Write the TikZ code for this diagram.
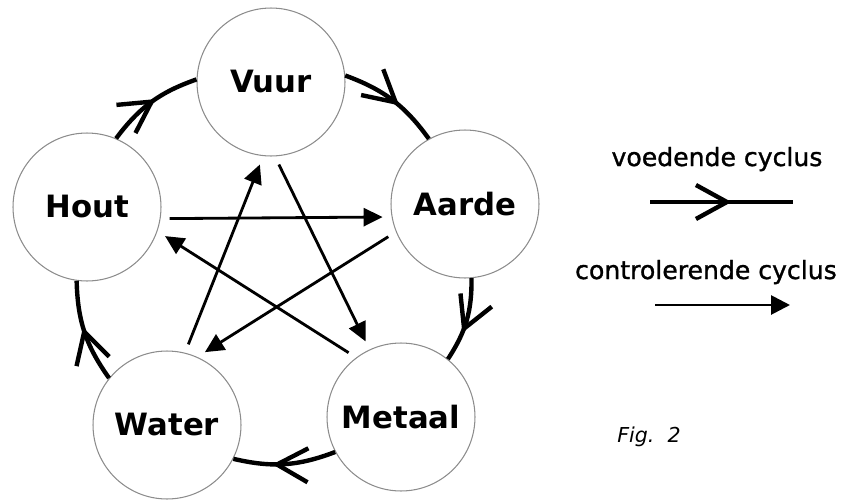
\documentclass[tikz,border=0pt]{standalone}
\usepackage{fontspec}
\setmainfont{DejaVu Sans}
\newfontfamily\legendfont[FakeBold=1.2]{DejaVu Sans}
\usepackage{tikz}
\usetikzlibrary{arrows.meta}
\usetikzlibrary{decorations.markings}

\tikzset{
  element/.style={draw=black!45, line width=0.6pt, circle, minimum size=2.96cm, inner sep=0pt,
    font=\bfseries\fontsize{17.5}{20}\selectfont},
  feed/.style={line width=2.5pt, postaction={decorate},
    decoration={markings, mark=at position #1 with {\arrow[line width=2.5pt]{Straight Barb[length=0.62cm,width=0.68cm]}}}},
  feed/.default=0.55,
  control/.style={line width=1.6pt, -{Triangle[length=0.38cm,width=0.36cm]},
    shorten <=0.18cm, shorten >=0.18cm},
  legend/.style={anchor=base, font=\legendfont\fontsize{14.3}{17}\selectfont}
}

\begin{document}
\begin{tikzpicture}[x=0.02cm, y=-0.02cm]
      \useasboundingbox (0,0) rectangle (867,501);

      % de vijf elementen
      \node[element] (vuur)   at (271,82)  {Vuur};
      \node[element] (aarde)  at (465,204) {Aarde};
      \node[element] (metaal) at (401,417) {Metaal};
      \node[element] (water)  at (167,425) {Water};
      \node[element] (hout)   at (87,207)  {Hout};

      % voedende cyclus
      \draw[feed=0.55] (hout.67)    to[bend left=17] (vuur.178);
      \draw[feed=0.58] (vuur.5)     to[bend left=17] (aarde.119);
      \draw[feed=0.65] (aarde.275)  to[bend left=17] (metaal.51);
      \draw[feed=0.62] (metaal.208) to[bend left=17] (water.-27);
      \draw[feed=0.55] (water.141)  to[bend left=17] (hout.262);

      % controlerende cyclus
      \draw[control] (hout.-9)    -- (aarde.190);
      \draw[control] (aarde.202)  -- (water.66);
      \draw[control] (water.76)   -- (vuur.264);
      \draw[control] (vuur.273)   -- (metaal.115);
      \draw[control] (metaal.127) -- (hout.-19);

      % legenda
      \node[legend] (lfeed) at (717,166) {voedende cyclus};
      \coordinate (f1) at (650,202);
      \coordinate (f2) at (793,202);
      \draw[feed=0.57] (f1) -- (f2);

      \node[legend] (lcontrol) at (706,279) {controlerende cyclus};
      \coordinate (c1) at (655,305);
      \coordinate (c2) at (790,305);
      \draw[line width=1.6pt, -{Triangle[length=0.38cm,width=0.38cm]}] (c1) -- (c2);

      \node[anchor=base, font=\itshape\fontsize{11.7}{14}\selectfont] (fig) at (649,442) {Fig.\ \ 2};
\end{tikzpicture}
\end{document}
